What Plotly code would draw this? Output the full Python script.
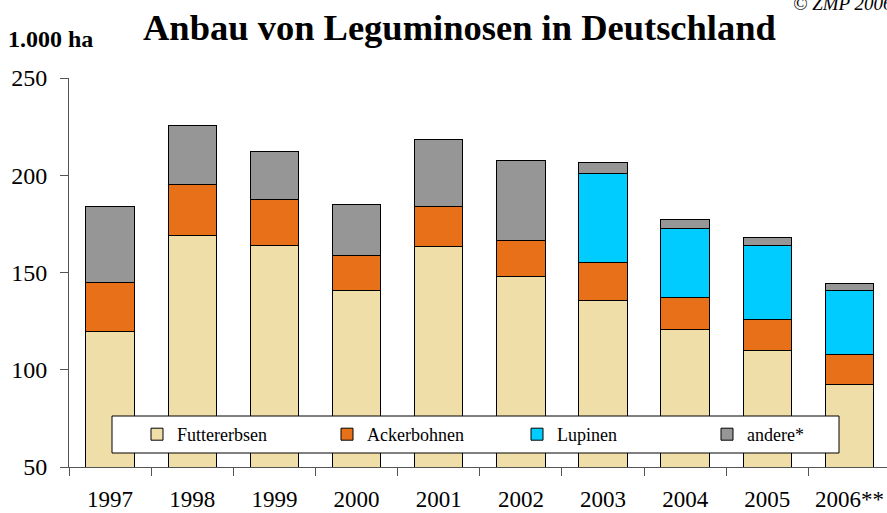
import plotly.graph_objects as go

years = ["1997", "1998", "1999", "2000", "2001", "2002", "2003", "2004", "2005", "2006**"]
futtererbsen = [119.6, 168.9, 164.1, 141.0, 163.4, 148.2, 135.5, 120.8, 109.7, 92.2]
ackerbohnen = [25.4, 26.5, 23.3, 17.6, 20.7, 18.5, 19.9, 16.3, 16.3, 15.4]
lupinen = [0, 0, 0, 0, 0, 0, 45.5, 35.7, 38.1, 33.4]
andere = [39.1, 30.0, 24.8, 26.4, 34.4, 40.7, 5.7, 4.2, 4.0, 3.5]

y_ticks = [50, 100, 150, 200, 250]

series = [
    ("Futtererbsen", futtererbsen, "#F0DEA8"),
    ("Ackerbohnen", ackerbohnen, "#E87019"),
    ("Lupinen", lupinen, "#00CCFF"),
    ("andere*", andere, "#969696"),
]

FONT = "Liberation Serif"

fig = go.Figure()
for name, vals, col in series:
    fig.add_trace(go.Bar(
        x=years, y=vals, name=name,
        marker=dict(color=col, line=dict(color="black", width=1)),
    ))

W, H = 887, 513
left, top, bottom = 69, 78, 467
pw, ph = W - left, bottom - top
cat_w = 82.16
x_max = -0.5 + pw / cat_w

def px_x(p):
    return (p - left) / pw

def px_y(p):
    return (bottom - p) / ph

fig.update_layout(
    width=W, height=H,
    barmode="stack",
    bargap=0.41,
    plot_bgcolor="white", paper_bgcolor="white",
    margin=dict(l=left, r=0, t=top, b=H - bottom, pad=0, autoexpand=False),
    font=dict(family=FONT, size=22, color="black"),
    showlegend=True,
    legend=dict(
        orientation="h",
        x=px_x(137), xanchor="left",
        y=px_y(416), yanchor="top",
        bgcolor="rgba(0,0,0,0)", borderwidth=0,
        font=dict(family=FONT, size=18, color="black"),
        entrywidth=145, entrywidthmode="pixels",
        traceorder="normal",
    ),
    shapes=[
        dict(type="rect", xref="paper", yref="paper",
             x0=px_x(112), x1=px_x(839), y0=px_y(453), y1=px_y(416),
             fillcolor="white", line=dict(color="black", width=1),
             layer="above"),
    ],
    xaxis=dict(
        range=[-0.5, x_max],
        showline=True, linecolor="#555555", linewidth=1,
        ticks="outside", ticklen=8, tickcolor="#555555",
        tickson="boundaries",
        ticklabelstandoff=11,
        tickfont=dict(family=FONT, size=23),
        showgrid=False, zeroline=False,
    ),
    yaxis=dict(
        range=[50, 250],
        tickvals=y_ticks,
        showline=True, linecolor="#555555", linewidth=1,
        ticks="outside", ticklen=8, tickcolor="#555555",
        ticklabelstandoff=8,
        tickfont=dict(family=FONT, size=24),
        showgrid=False, zeroline=False,
    ),
    annotations=[
        dict(text="<b>Anbau von Leguminosen in Deutschland</b>",
             xref="paper", yref="paper", x=px_x(459), y=1.0,
             yshift=(top - 27),
             xanchor="center", yanchor="middle", showarrow=False,
             font=dict(family=FONT, size=36.5, color="black")),
        dict(text="<b>1.000 ha</b>",
             xref="paper", yref="paper", x=px_x(6), y=1.0,
             yshift=(top - 39),
             xanchor="left", yanchor="middle", showarrow=False,
             font=dict(family=FONT, size=24, color="black")),
        dict(text="<i>© ZMP 2006</i>",
             xref="paper", yref="paper", x=px_x(791), y=1.0,
             yshift=(top - 3),
             xanchor="left", yanchor="middle", showarrow=False,
             font=dict(family=FONT, size=19, color="black")),
    ],
)

fig.write_html("out.html",
               config={"displayModeBar": False},
               post_script="document.body.style.margin='0';document.body.style.overflow='hidden';")
